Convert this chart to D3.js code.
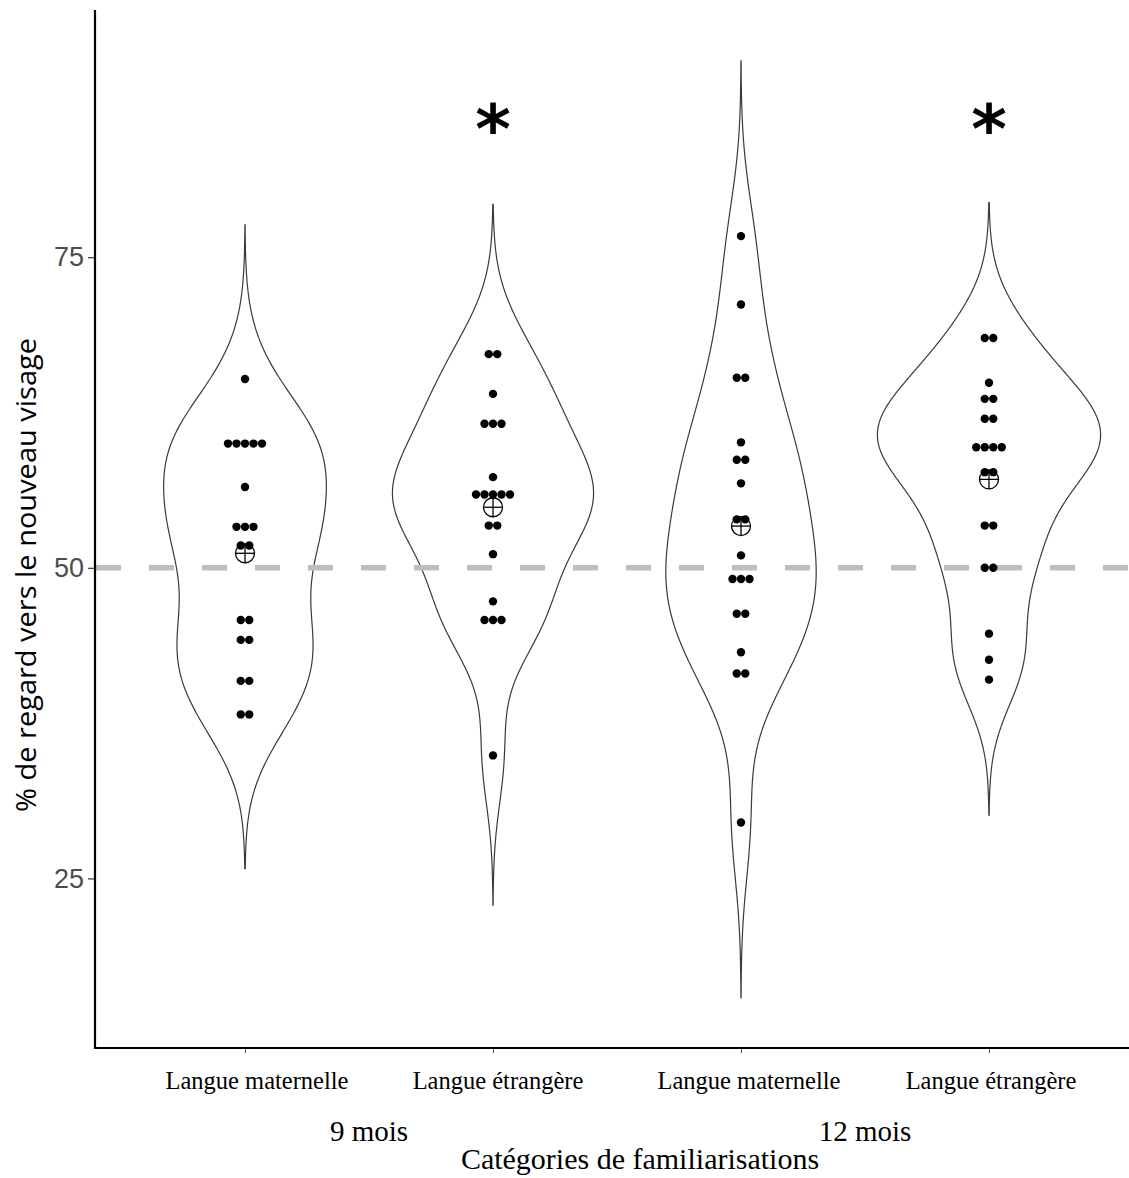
<!DOCTYPE html>
<html>
<head>
<meta charset="utf-8">
<script src="https://cdn.jsdelivr.net/npm/d3@7"></script>
<style>
  html, body { margin: 0; padding: 0; background: #fff; }
  svg { display: block; }
</style>
</head>
<body>
<svg id="chart" width="1129" height="1178"></svg>
<script>
// ---------------- data ----------------
const categories = ["Langue maternelle", "Langue étrangère", "Langue maternelle", "Langue étrangère"];
const ageGroups = ["9 mois", "12 mois"];
const significant = [false, true, false, true];

const values9Maternelle = [65.2, 60, 60, 60, 60, 60, 56.5, 53.3, 53.3, 53.3, 51.8, 51.8,
  45.8, 45.8, 44.2, 44.2, 40.9, 40.9, 38.2, 38.2];
const values9Etrangere = [67.2, 67.2, 64.0, 61.6, 61.6, 61.6, 57.3, 55.9, 55.9, 55.9, 55.9, 55.9,
  53.4, 53.4, 51.1, 47.3, 45.8, 45.8, 45.8, 34.9];
const values12Maternelle = [76.7, 71.2, 65.3, 65.3, 60.1, 58.7, 58.7, 56.8, 53.9, 53.9, 51.0,
  49.1, 49.1, 49.1, 46.3, 46.3, 43.2, 41.5, 41.5, 29.5];
const values12Etrangere = [68.5, 68.5, 64.9, 63.6, 63.6, 62.0, 62.0, 59.7, 59.7, 59.7, 59.7,
  57.7, 57.7, 53.4, 53.4, 50.0, 50.0, 44.7, 42.6, 41.0];

const yTicks = [25, 50, 75];
const referenceLine = 50;
const yDomain = [11.35, 94.9];

const series = [values9Maternelle, values9Etrangere, values12Maternelle, values12Etrangere];

// ---------------- layout ----------------
const svg = d3.select("#chart");
const panel = { left: 95, right: 1140, top: 10, bottom: 1048 };
const labelShift = [12, 5, 8, 2];

const x = d3.scalePoint().domain(d3.range(categories.length)).range([245, 989]);
const step = x.step();
const y = d3.scaleLinear().domain(yDomain).range([panel.bottom, panel.top]);

// ---------------- KDE (gaussian, bw.nrd0, cut = 3) ----------------
function nrd0(v) {
  const s = d3.sort(v);
  const sd = d3.deviation(s);
  const iqr = (d3.quantile(s, 0.75) - d3.quantile(s, 0.25)) / 1.34;
  let lo = Math.min(sd, iqr);
  if (!(lo > 0)) lo = sd || Math.abs(s[0]) || 1;
  return 0.9 * lo * Math.pow(s.length, -0.2);
}
function kde(v) {
  const bw = nrd0(v);
  const lo = d3.min(v) - 3 * bw, hi = d3.max(v) + 3 * bw;
  const n = 512;
  const pts = [];
  for (let i = 0; i < n; i++) {
    const t = lo + (hi - lo) * i / (n - 1);
    let s = 0;
    for (const xi of v) { const u = (t - xi) / bw; s += Math.exp(-0.5 * u * u); }
    pts.push({ v: t, d: s / (v.length * bw * Math.sqrt(2 * Math.PI)) });
  }
  return pts;
}
const densities = series.map(kde);
const maxD = d3.max(densities, ds => d3.max(ds, p => p.d));
const halfW = d3.scaleLinear().domain([0, maxD]).range([0, 0.45 * step]);

// ---------------- violins ----------------
const gV = svg.append("g");
densities.forEach((ds, i) => {
  const cx = x(i);
  const area = d3.area()
    .y(p => y(p.v))
    .x0(p => cx - halfW(p.d))
    .x1(p => cx + halfW(p.d));
  gV.append("path").attr("d", area(ds))
    .attr("fill", "none").attr("stroke", "#3a3a3a").attr("stroke-width", 1.2);
});

// ---------------- reference dashed line ----------------
svg.append("line")
  .attr("x1", panel.left + 1).attr("x2", panel.right)
  .attr("y1", y(referenceLine)).attr("y2", y(referenceLine))
  .attr("stroke", "#bebebe").attr("stroke-width", 5.5)
  .attr("stroke-dasharray", "25,28");

// ---------------- dots (centered stacks) ----------------
const dotSpacing = 8.5, dotR = 4.2;
const gD = svg.append("g");
series.forEach((vals, i) => {
  const groups = d3.groups(vals, v => v);
  groups.forEach(([v, arr]) => {
    const n = arr.length;
    arr.forEach((_, k) => {
      gD.append("circle")
        .attr("cx", x(i) + (k - (n - 1) / 2) * dotSpacing)
        .attr("cy", y(v)).attr("r", dotR).attr("fill", "#000");
    });
  });
});

// ---------------- mean markers (circle with cross) ----------------
const gM = svg.append("g");
series.forEach((vals, i) => {
  const m = d3.mean(vals), cx = x(i), cy = y(m), r = 9.5;
  gM.append("circle").attr("cx", cx).attr("cy", cy).attr("r", r)
    .attr("fill", "none").attr("stroke", "#000").attr("stroke-width", 1.3);
  gM.append("line").attr("x1", cx - r).attr("x2", cx + r).attr("y1", cy).attr("y2", cy)
    .attr("stroke", "#000").attr("stroke-width", 1.3);
  gM.append("line").attr("x1", cx).attr("x2", cx).attr("y1", cy - r).attr("y2", cy + r)
    .attr("stroke", "#000").attr("stroke-width", 1.3);
});

// ---------------- significance asterisks ----------------
significant.forEach((s, i) => {
  if (!s) return;
  svg.append("text").attr("x", x(i)).attr("y", 153)
    .attr("text-anchor", "middle")
    .attr("font-family", "'DejaVu Sans', sans-serif").attr("font-weight", "bold")
    .attr("font-size", 68)
    .attr("fill", "#000").text("*");
});

// ---------------- axes ----------------
const yAxis = d3.axisLeft(y).tickValues(yTicks).tickSize(7).tickPadding(4);
const gy = svg.append("g").attr("transform", `translate(${panel.left},0)`).call(yAxis);
gy.select(".domain").remove();
gy.selectAll(".tick line").attr("stroke", "#333").attr("stroke-width", 1.2);
gy.selectAll(".tick text")
  .attr("font-family", "'Liberation Sans', Arial, sans-serif")
  .attr("font-size", 27).attr("fill", "#4d4d4d");

const xAxis = d3.axisBottom(x).tickSize(5).tickFormat(() => "");
const gx = svg.append("g").attr("transform", `translate(0,${panel.bottom})`).call(xAxis);
gx.select(".domain").remove();
gx.selectAll(".tick line").attr("stroke", "#555").attr("stroke-width", 1);

svg.append("line").attr("x1", panel.left).attr("x2", panel.left)
  .attr("y1", panel.top).attr("y2", panel.bottom + 1)
  .attr("stroke", "#000").attr("stroke-width", 2.2);
svg.append("line").attr("x1", panel.left - 1).attr("x2", 1129)
  .attr("y1", panel.bottom).attr("y2", panel.bottom)
  .attr("stroke", "#000").attr("stroke-width", 2.2);

// category labels
categories.forEach((c, i) => {
  svg.append("text").attr("x", x(i) + labelShift[i]).attr("y", 1089)
    .attr("text-anchor", "middle")
    .attr("font-family", "'Liberation Serif', 'Times New Roman', serif")
    .attr("font-size", 24.5).attr("fill", "#000").text(c);
});
// age group labels
ageGroups.forEach((a, j) => {
  const cx = (x(2 * j) + x(2 * j + 1)) / 2;
  svg.append("text").attr("x", cx).attr("y", 1141)
    .attr("text-anchor", "middle")
    .attr("font-family", "'Liberation Serif', 'Times New Roman', serif")
    .attr("font-size", 29).attr("fill", "#000").text(a);
});
// x title
svg.append("text").attr("x", 640).attr("y", 1169)
  .attr("text-anchor", "middle")
  .attr("font-family", "'Liberation Serif', 'Times New Roman', serif")
  .attr("font-size", 30).attr("fill", "#000").text("Catégories de familiarisations");

// y title
svg.append("text")
  .attr("transform", "translate(36,575) rotate(-90)")
  .attr("text-anchor", "middle")
  .attr("font-family", "'Open Sans', sans-serif")
  .attr("font-size", 28).attr("fill", "#000")
  .attr("textLength", 474).attr("lengthAdjust", "spacingAndGlyphs")
  .text("% de regard vers le nouveau visage");
</script>
</body>
</html>
